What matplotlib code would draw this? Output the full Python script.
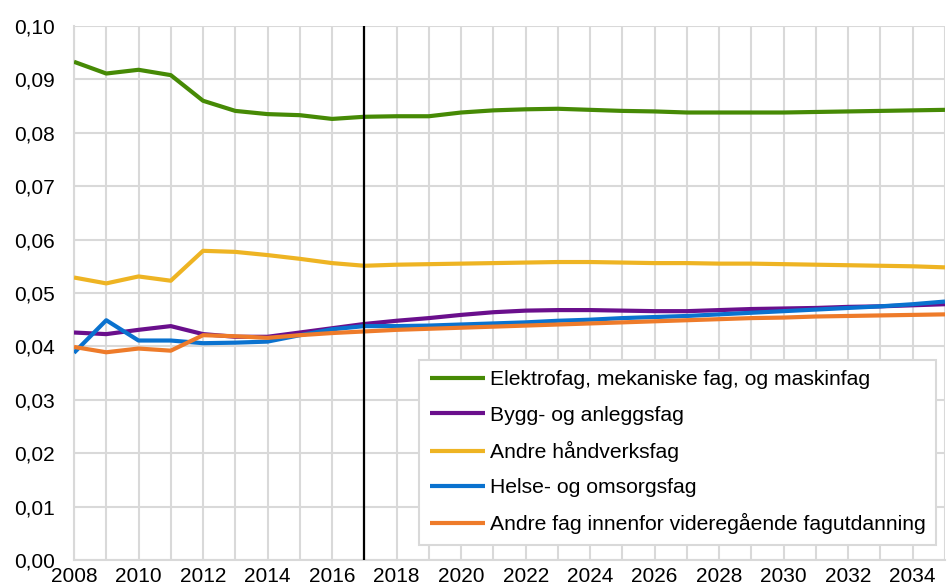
import numpy as np
import matplotlib
matplotlib.use("Agg")
import matplotlib.pyplot as plt
from matplotlib.ticker import FuncFormatter, MultipleLocator

plt.rcParams['font.family'] = ['Liberation Sans', 'DejaVu Sans']

# ───────── DATA ─────────
years = list(range(2008, 2036))

elektro = [0.0933, 0.0911, 0.0918, 0.0908, 0.0860, 0.0841, 0.0835, 0.0833, 0.0826, 0.0830,
           0.0831, 0.0831, 0.0838, 0.0842, 0.0844, 0.0845, 0.0843, 0.0841, 0.0840, 0.0838,
           0.0838, 0.0838, 0.0838, 0.0839, 0.0840, 0.0841, 0.0842, 0.0843]
bygg    = [0.0426, 0.0423, 0.0431, 0.0438, 0.0423, 0.0418, 0.0418, 0.0426, 0.0434, 0.0442,
           0.0448, 0.0453, 0.0459, 0.0464, 0.0467, 0.0468, 0.0468, 0.0467, 0.0466, 0.0466,
           0.0468, 0.0470, 0.0471, 0.0472, 0.0474, 0.0475, 0.0477, 0.0479]
andre_h = [0.0529, 0.0518, 0.0531, 0.0523, 0.0579, 0.0577, 0.0571, 0.0564, 0.0556, 0.0551,
           0.0553, 0.0554, 0.0555, 0.0556, 0.0557, 0.0558, 0.0558, 0.0557, 0.0556, 0.0556,
           0.0555, 0.0555, 0.0554, 0.0553, 0.0552, 0.0551, 0.0550, 0.0548]
helse   = [0.0388, 0.0449, 0.0411, 0.0411, 0.0406, 0.0407, 0.0409, 0.0421, 0.0432, 0.0438,
           0.0438, 0.0439, 0.0441, 0.0443, 0.0445, 0.0448, 0.0450, 0.0453, 0.0455, 0.0457,
           0.0460, 0.0463, 0.0466, 0.0469, 0.0472, 0.0475, 0.0479, 0.0484]
andre_f = [0.0399, 0.0389, 0.0396, 0.0392, 0.0421, 0.0419, 0.0416, 0.0421, 0.0425, 0.0428,
           0.0431, 0.0433, 0.0435, 0.0437, 0.0439, 0.0441, 0.0443, 0.0445, 0.0447, 0.0449,
           0.0451, 0.0453, 0.0454, 0.0456, 0.0457, 0.0458, 0.0459, 0.0460]

labels = ['Elektrofag, mekaniske fag, og maskinfag',
          'Bygg- og anleggsfag',
          'Andre håndverksfag',
          'Helse- og omsorgsfag',
          'Andre fag innenfor videregående fagutdanning']
colors = ['#468A05', '#6A0F8C', '#EEB423', '#0A72CF', '#EE7B2A']
split_year = 2017
# ────────────────────────

fig = plt.figure(figsize=(9.48, 5.87), dpi=100)
ax = fig.add_axes([74/948, 1 - 560/587, 871/948, 534/587])

series = [elektro, bygg, andre_h, helse, andre_f]
for vals, lab, col in zip(series, labels, colors):
    ax.plot(years, vals, color=col, lw=3.0, label=lab, solid_capstyle='butt', zorder=3)

ax.axvline(split_year, color='black', lw=1.6, zorder=4)

ax.set_xlim(2008, 2035)
ax.set_ylim(0, 0.10)
ax.xaxis.set_major_locator(MultipleLocator(2))
ax.xaxis.set_minor_locator(MultipleLocator(1))
ax.yaxis.set_major_locator(MultipleLocator(0.01))
ax.yaxis.set_major_formatter(FuncFormatter(lambda v, p: f"{v:.2f}".replace('.', ',')))

ax.grid(True, which='both', axis='x', color='#d9d9d9', lw=1.5, zorder=0)
ax.grid(True, which='major', axis='y', color='#d9d9d9', lw=1.5, zorder=0)
for s in ['top', 'right']:
    ax.spines[s].set_visible(False)
for s in ['left', 'bottom']:
    ax.spines[s].set_color('#d9d9d9')
    ax.spines[s].set_linewidth(1.5)
ax.tick_params(which='both', length=0, labelsize=15, colors='black')
ax.tick_params(axis='y', pad=14)
ax.tick_params(axis='x', pad=5)

leg = ax.legend(loc='lower right', bbox_to_anchor=(0.99, 0.028), fontsize=15.2,
                frameon=True, fancybox=False, framealpha=1, edgecolor='#d9d9d9',
                handlelength=2.6, handletextpad=0.25, labelspacing=0.77,
                borderpad=0.5, borderaxespad=0)
leg.get_frame().set_linewidth(1.5)
leg.set_zorder(5)

fig.savefig('out.png', dpi=100)
